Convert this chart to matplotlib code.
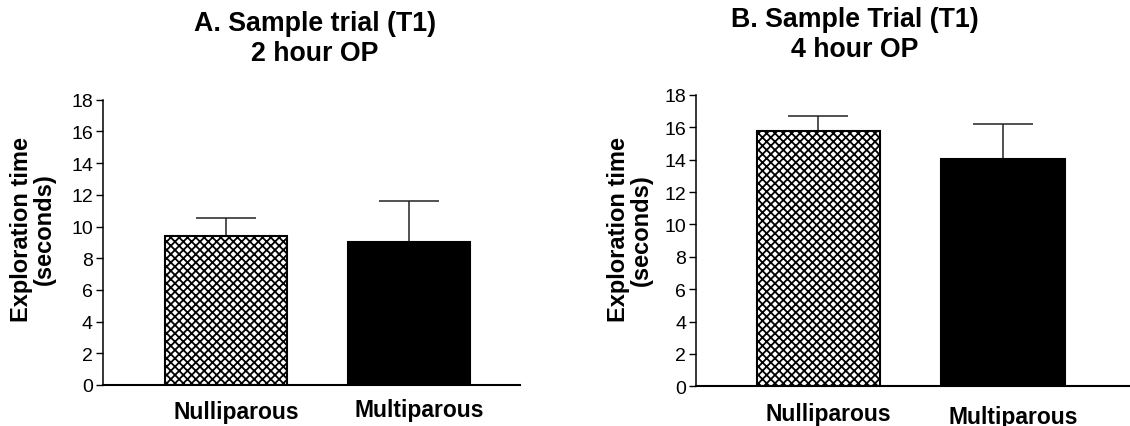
import matplotlib
matplotlib.use("Agg")
import matplotlib.pyplot as plt
import matplotlib.transforms as mtransforms

plt.rcParams['font.family'] = ['Liberation Sans', 'DejaVu Sans']
plt.rcParams['hatch.linewidth'] = 1.3
plt.rcParams['hatch.color'] = 'black'

categories = ["Nulliparous", "Multiparous"]
means_2h = [9.42, 9.04]
sem_2h = [1.10, 2.56]
means_4h = [15.80, 14.03]
sem_4h = [0.89, 2.16]
yticks = [0, 2, 4, 6, 8, 10, 12, 14, 16, 18]
title_a = "A. Sample trial (T1)\n2 hour OP"
title_b = "B. Sample Trial (T1)\n4 hour OP"
ylabel = "Exploration time\n(seconds)"

fig = plt.figure(figsize=(11.30, 4.27), dpi=100)
W, H = 1130, 427

def px_axes(x0, x1, ytop, ybot):
    return fig.add_axes([x0 / W, (H - ybot) / H, (x1 - x0) / W, (ybot - ytop) / H])

ax1 = px_axes(102.7, 520, 100.7, 386)
ax2 = px_axes(696, 1130, 96, 387.3)

def draw(ax, means, sems, title, xlim, title_xy, ylab_xy, label_dy):
    pos = [0, 1]
    ax.bar(pos[0], means[0], width=0.67, color='white', edgecolor='black',
           hatch='xxxx', linewidth=1.5, zorder=2)
    ax.bar(pos[1], means[1], width=0.67, color='black', edgecolor='black',
           linewidth=1.5, zorder=2)
    ax.errorbar(pos, means, yerr=[[0, 0], sems], fmt='none', ecolor='#222222',
                elinewidth=1.1, capsize=21.6, capthick=1.1, zorder=1)
    ax.set_xlim(*xlim)
    ax.set_ylim(0, 18)
    ax.set_yticks(yticks)
    ax.set_yticklabels([str(t) for t in yticks], fontsize=14)
    ax.tick_params(axis='y', direction='out', length=5, width=1.0, pad=2)
    ax.set_xticks(pos)
    ax.set_xticklabels(categories, fontsize=16.5, fontweight='bold')
    ax.tick_params(axis='x', length=0, pad=11)
    for i, lab in enumerate(ax.get_xticklabels()):
        off = mtransforms.ScaledTranslation(10 / 100, -label_dy[i] / 100, fig.dpi_scale_trans)
        lab.set_transform(lab.get_transform() + off)
    for s in ['top', 'right']:
        ax.spines[s].set_visible(False)
    ax.spines['left'].set_linewidth(1.1)
    ax.spines['bottom'].set_linewidth(1.5)
    fig.text(title_xy[0] / W, 1 - title_xy[1] / H, title, ha='center', va='center',
             fontsize=19.3, fontweight='bold', linespacing=1.2)
    fig.text(ylab_xy[0] / W, 1 - ylab_xy[1] / H, ylabel, ha='center', va='center',
             rotation=90, fontsize=17, fontweight='bold', linespacing=1.0)

draw(ax1, means_2h, sem_2h, title_a, (-0.674, 1.607), (315, 39), (33, 229), [0, -2])
draw(ax2, means_4h, sem_4h, title_b, (-0.664, 1.69), (855, 35), (630, 230), [0, 3])

fig.savefig("out.png", dpi=100)
